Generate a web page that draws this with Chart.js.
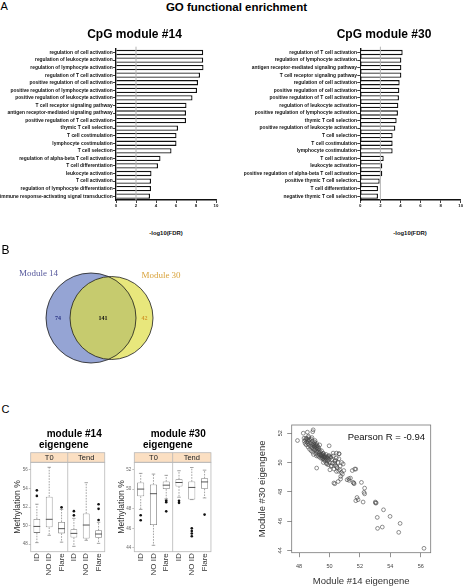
<!DOCTYPE html>
<html><head><meta charset="utf-8">
<script src="https://cdn.jsdelivr.net/npm/chart.js@4.4.1/dist/chart.umd.min.js"></script>
<style>
html,body{margin:0;padding:0;background:#fff;}
body{width:465px;height:588px;position:relative;overflow:hidden;font-family:"Liberation Sans",Arial,sans-serif;color:#000;}
canvas{position:absolute;display:block;}
.t{position:absolute;white-space:nowrap;line-height:1;}
</style></head>
<body>
<canvas id="bar14" width="222" height="175" style="left:0px;top:40px"></canvas>
<canvas id="bar30" width="237" height="175" style="left:228px;top:40px"></canvas>
<canvas id="venn" width="230" height="135" style="left:0px;top:240px"></canvas>
<canvas id="box14" width="110" height="138" style="left:0px;top:450px"></canvas>
<canvas id="box30" width="104" height="138" style="left:112px;top:450px"></canvas>
<canvas id="scat" width="225" height="178" style="left:240px;top:410px"></canvas>
<script>
// ---------------- DATA ----------------
const termsM14 = ["regulation of cell activation","regulation of leukocyte activation","regulation of lymphocyte activation","regulation of T cell activation","positive regulation of cell activation","positive regulation of lymphocyte activation","positive regulation of leukocyte activation","T cell receptor signaling pathway","antigen receptor-mediated signaling pathway","positive regulation of T cell activation","thymic T cell selection","T cell costimulation","lymphocyte costimulation","T cell selection","regulation of alpha-beta T cell activation","T cell differentiation","leukocyte activation","T cell activation","regulation of lymphocyte differentiation","immune response-activating signal transduction"];
const fdrM14 = [8.72,8.72,8.75,8.4,8.2,8.1,7.65,7.05,7.0,7.0,6.2,6.05,6.05,5.55,4.45,4.2,3.55,3.5,3.5,3.4];
const termsM30 = ["regulation of T cell activation","regulation of lymphocyte activation","antigen receptor-mediated signaling pathway","T cell receptor signaling pathway","regulation of cell activation","positive regulation of cell activation","positive regulation of T cell activation","regulation of leukocyte activation","positive regulation of lymphocyte activation","thymic T cell selection","positive regulation of leukocyte activation","T cell selection","T cell costimulation","lymphocyte costimulation","T cell activation","leukocyte activation","positive regulation of alpha-beta T cell activation","positive thymic T cell selection","T cell differentiation","negative thymic T cell selection"];
const fdrM30 = [4.22,4.09,4.09,4.09,3.92,3.89,3.85,3.79,3.75,3.62,3.49,3.22,3.22,3.22,2.33,2.19,2.19,1.93,1.76,1.76];
const fdrThreshold = 2;
const fdrTicks = [0,2,4,6,8,10];

const vennSets = ["Module 14","Module 30"];
const vennCounts = [74,141,42]; // only 14, both, only 30

const boxGroups = ["T0","Tend"];
const boxCats = ["ID","NO ID","Flare"];
const m14Low  = [48.15,48.94,48.2,47.75,48.4,48.07];
const m14Q1   = [49.2,49.8,49.15,48.7,48.6,48.68];
const m14Med  = [49.9,50.67,49.66,49.15,50.05,49.08];
const m14Q3   = [50.7,53.12,50.38,49.59,51.3,49.48];
const m14High = [52.3,56.29,51.75,50.77,54.63,50.35];
const m14Out  = [[0,53.8],[0,53.2],[2,51.96],[3,51.55],[3,51.1],[5,52.3],[5,51.8],[5,50.6]];
const m14Ticks = [48,50,52,54,56];
const m30Low  = [47.93,44.27,49.0,49.17,48.93,49.1];
const m30Q1   = [49.27,46.33,50.0,50.27,48.93,50.03];
const m30Med  = [50.0,49.53,50.4,50.67,50.17,50.73];
const m30Q3   = [50.67,50.47,50.77,51.0,50.77,51.1];
const m30High = [51.6,51.53,51.4,51.87,52.2,51.93];
const m30Out  = [[0,47.33],[0,46.83],[2,48.83],[2,48.67],[2,47.73],[3,48.8],[3,48.6],[4,46.0],[4,45.73],[4,45.47],[4,45.2],[5,47.4]];
const m30Ticks = [44,46,48,50,52];

const scX = [47.9,48.28,48.55,48.9,48.93,48.63,48.33,48.46,48.61,49.98,50.24,50.63,50.1,50.4,50.9,50.46,50.68,50.94,50.74,50.35,50.57,51.16,51.27,51.38,51.5,51.73,51.6,51.62,52.1,52.31,52.31,51.81,51.73,52.21,53.01,53.03,53.55,53.14,53.98,54.64,53.16,53.47,54.55,56.21,49.59,49.7,49.98,50.46,50.63,49.16,49.81,50.14,50.35,50.03,50.46,50.79,51.66,51.29,51.55,50.73,50.29,52.27,51.88,53.07,
48.35,48.4,48.42,48.48,48.5,48.52,48.58,48.6,48.62,48.66,48.7,48.7,48.74,48.76,48.8,48.8,48.83,48.86,48.88,48.9,48.92,48.95,48.97,49.0,49.0,49.02,49.04,49.06,49.08,49.1,49.1,49.12,49.14,49.16,49.18,49.2,49.2,49.22,49.24,49.26,49.28,49.3,49.3,49.32,49.34,49.36,49.38,49.4,49.42,49.44,49.46,49.48,49.5,49.52,49.55,49.56,49.58,49.6,49.62,49.64,49.66,49.68,49.7,49.72,49.75,49.78,49.8,49.82,49.85,49.88,49.9,49.92,49.95,49.97,50.0,50.05,50.1,50.15,50.2,50.25,50.3,50.35,50.4,50.45,50.5,50.55,50.6,50.62,50.7,50.8,50.85,49.15,48.95,49.6,49.05,48.85,48.62];
const scY = [51.5,52.0,52.07,52.1,52.23,51.7,51.66,51.66,51.54,51.14,50.64,50.6,50.36,50.14,49.9,49.73,49.5,49.45,49.05,48.55,48.7,48.82,48.9,48.93,49.45,49.55,48.6,48.55,48.64,48.25,47.86,47.61,47.39,47.3,47.3,47.23,46.77,46.25,46.32,45.84,45.5,45.59,45.23,44.14,50.64,50.37,50.46,50.64,50.59,49.62,49.96,49.78,49.96,49.5,49.39,49.32,49.55,48.78,48.64,48.87,48.6,47.96,47.46,47.24,
51.45,51.3,51.55,51.2,51.4,51.6,51.3,51.05,51.45,51.2,51.55,50.9,51.35,51.1,50.8,51.6,51.25,51.0,51.45,50.7,51.15,51.3,50.9,51.2,51.05,51.4,50.85,51.1,51.25,50.95,50.6,51.15,50.8,51.3,51.0,50.7,51.15,50.9,50.5,51.05,50.75,50.95,50.4,50.6,50.85,51.2,50.5,50.7,50.3,50.55,50.45,50.8,50.35,50.55,50.25,50.45,50.6,50.3,50.4,50.2,50.5,50.35,50.1,50.42,50.28,50.55,50.2,49.9,50.38,50.1,50.3,49.85,50.45,50.2,50.0,50.35,49.75,50.2,49.95,50.45,49.55,50.1,49.8,50.3,49.65,50.0,49.4,50.25,49.75,50.0,49.2,50.45,50.55,50.0,51.5,51.7,51.8];
const scXTicks = [48,50,52,54,56];
const scYTicks = [44,46,48,50,52];
const pearsonR = -0.94;

// ---------------- SETUP ----------------
Chart.defaults.font.family = "'Liberation Sans', Arial, sans-serif";
Chart.defaults.animation = false;
Chart.defaults.responsive = false;
Chart.defaults.events = [];
Chart.defaults.plugins.legend.display = false;
Chart.defaults.plugins.tooltip.enabled = false;

function label(text, x, baseline, size, o) {
  o = o || {};
  const d = document.createElement('div');
  d.className = 't'; d.textContent = text;
  d.style.fontSize = size + 'px';
  d.style.top = (baseline - 0.845 * size) + 'px';
  d.style.left = x + 'px';
  if (o.weight) d.style.fontWeight = o.weight;
  if (o.family) d.style.fontFamily = o.family;
  if (o.color) d.style.color = o.color;
  if (o.center) d.style.transform = 'translateX(-50%)';
  document.body.appendChild(d);
}

label('A', 0.5, 10.5, 11);
label('GO functional enrichment', 236.5, 11.5, 11.5, {weight:'bold', center:true});
label('CpG module #14', 134.5, 38.6, 12, {weight:'bold', center:true});
label('CpG module #30', 384, 38.2, 12, {weight:'bold', center:true});
label('-log10(FDR)', 166, 236, 5.9, {weight:'bold', center:true, color:'#111'});
label('-log10(FDR)', 410, 236, 5.9, {weight:'bold', center:true, color:'#111'});
label('B', 1.5, 254, 12);
label(vennSets[0], 38.5, 276.7, 9, {family:"'Liberation Serif', 'Times New Roman', serif", color:'#56589c', center:true});
label(vennSets[1], 161, 279, 9, {family:"'Liberation Serif', 'Times New Roman', serif", color:'#d9a33c', center:true});
label('C', 1.5, 413.5, 11);
label('module #14', 46.7, 437, 10, {weight:'bold'});
label('eigengene', 39, 448.6, 10, {weight:'bold'});
label('module #30', 150.7, 437, 10, {weight:'bold'});
label('eigengene', 143, 448.6, 10, {weight:'bold'});
label('Pearson R = ' + pearsonR.toFixed(2), 347.7, 440, 9.5, {color:'#111'});

// ---------------- PANEL A ----------------
const thresholdPlugin = {
  id: 'thr',
  afterDatasetsDraw(chart) {
    const {ctx, chartArea: a, scales: {x}} = chart;
    const px = x.getPixelForValue(fdrThreshold);
    ctx.save();
    ctx.strokeStyle = '#b4b4b4'; ctx.lineWidth = 1;
    ctx.beginPath(); ctx.moveTo(px, a.top - 2); ctx.lineTo(px, a.bottom); ctx.stroke();
    ctx.restore();
  }
};
function goChart(id, terms, vals, yWidth, padRight) {
  return new Chart(document.getElementById(id), {
    type: 'bar',
    data: { labels: terms, datasets: [{ data: vals, backgroundColor: '#ffffff', borderColor: '#111', borderWidth: 1.3, barPercentage: 0.7, categoryPercentage: 1 }] },
    options: {
      indexAxis: 'y',
      layout: { padding: { top: 8.7, right: padRight, bottom: 3, left: 0 } },
      scales: {
        x: { type: 'linear', min: 0, max: 10,
             afterBuildTicks: s => { s.ticks = fdrTicks.map(v => ({ value: v })); },
             afterFit: s => { s.height = 12; },
             grid: { drawOnChartArea: false, tickLength: 3, color: '#111', lineWidth: 0.8 },
             border: { color: '#111', width: 1.4 },
             ticks: { font: { size: 4.3, weight: 'bold' }, color: '#111', padding: 0.5 } },
        y: { afterFit: s => { s.width = yWidth; },
             grid: { drawOnChartArea: false, offset: false, tickLength: 3, color: '#111', lineWidth: 0.8 },
             border: { color: '#111', width: 1.4 },
             ticks: { autoSkip: false, font: { size: 4.9, weight: 'bold' }, color: '#111', padding: 0.3 } }
      }
    },
    plugins: [thresholdPlugin]
  });
}
goChart('bar14', termsM14, fdrM14, 116, 6);
goChart('bar30', termsM30, fdrM30, 132.3, 4.3);

// ---------------- PANEL B ----------------
// circle geometry in chart units (canvas pixels via linear scales)
const vennCircles = [{ cx: 91, cy: 78, r: 45 }, { cx: 111.5, cy: 78, r: 41.5 }];
const vennPlugin = {
  id: 'venn',
  afterDatasetsDraw(chart) {
    const {ctx, scales: {x, y}} = chart;
    const C = vennCircles.map(c => ({ x: x.getPixelForValue(c.cx), y: y.getPixelForValue(c.cy), r: x.getPixelForValue(c.cx + c.r) - x.getPixelForValue(c.cx) }));
    const circ = c => { ctx.beginPath(); ctx.arc(c.x, c.y, c.r, 0, 2 * Math.PI); };
    ctx.save();
    circ(C[0]); ctx.fillStyle = '#95a4d4'; ctx.fill();
    circ(C[1]); ctx.fillStyle = '#e8e77c'; ctx.fill();
    ctx.save(); circ(C[0]); ctx.clip(); circ(C[1]); ctx.fillStyle = '#c6cb6e'; ctx.fill(); ctx.restore();
    ctx.strokeStyle = '#1a1a1a'; ctx.lineWidth = 0.8;
    circ(C[0]); ctx.stroke(); circ(C[1]); ctx.stroke();
    const aL = C[0].x - C[0].r, aR = C[0].x + C[0].r, bL = C[1].x - C[1].r, bR = C[1].x + C[1].r;
    const pos = [(aL + bL) / 2, (bL + aR) / 2, (aR + bR) / 2];
    const cols = ['#2b3585', '#111111', '#d29a2c'];
    ctx.font = "bold 6px 'Liberation Serif', serif";
    ctx.textAlign = 'center'; ctx.textBaseline = 'middle';
    vennCounts.forEach((c, i) => { ctx.fillStyle = cols[i]; ctx.fillText(String(c), pos[i], C[0].y); });
    ctx.restore();
  }
};
new Chart(document.getElementById('venn'), {
  type: 'scatter',
  data: { datasets: vennCircles.map((c, i) => ({ label: vennSets[i], data: [{ x: c.cx, y: c.cy }], pointRadius: 0 })) },
  options: {
    layout: { padding: 0 },
    scales: { x: { type: 'linear', min: 0, max: 230, display: false }, y: { type: 'linear', min: 0, max: 135, reverse: true, display: false } }
  },
  plugins: [vennPlugin]
});

// ---------------- PANEL C: boxplots ----------------
const boxKeys = boxGroups.flatMap(g => boxCats.map(c => g + ' ' + c));
function makeBoxPlugin(st) {
  return {
    id: 'boxdraw',
    afterDatasetsDraw(chart) {
      const ctx = chart.ctx, y = chart.scales.y, meta = chart.getDatasetMeta(0);
      ctx.save();
      meta.data.forEach((bar, i) => {
        const cx = bar.x, w = bar.width;
        const pLow = y.getPixelForValue(st.low[i]), pHigh = y.getPixelForValue(st.high[i]);
        const pQ1 = y.getPixelForValue(st.q1[i]), pQ3 = y.getPixelForValue(st.q3[i]), pMed = y.getPixelForValue(st.med[i]);
        ctx.strokeStyle = '#7c7c7c'; ctx.lineWidth = 0.7;
        ctx.setLineDash([1.6, 1.2]);
        ctx.beginPath(); ctx.moveTo(cx, pQ3); ctx.lineTo(cx, pHigh); ctx.moveTo(cx, pQ1); ctx.lineTo(cx, pLow); ctx.stroke();
        ctx.setLineDash([]);
        ctx.beginPath(); ctx.moveTo(cx - w / 4, pHigh); ctx.lineTo(cx + w / 4, pHigh); ctx.moveTo(cx - w / 4, pLow); ctx.lineTo(cx + w / 4, pLow); ctx.stroke();
        ctx.strokeStyle = '#555'; ctx.lineWidth = 1;
        ctx.beginPath(); ctx.moveTo(cx - w / 2, pMed); ctx.lineTo(cx + w / 2, pMed); ctx.stroke();
      });
      ctx.restore();
    },
    afterDraw(chart) {
      const ctx = chart.ctx, a = chart.chartArea, x = chart.scales.x;
      const split = (x.getPixelForValue(2) + x.getPixelForValue(3)) / 2;
      const sh = 9.6, stTop = a.top - sh;
      ctx.save();
      ctx.fillStyle = '#fbdfc2'; ctx.fillRect(a.left, stTop, a.right - a.left, sh);
      ctx.strokeStyle = '#b8b8b8'; ctx.lineWidth = 0.8;
      ctx.strokeRect(a.left, stTop, a.right - a.left, sh);
      ctx.strokeRect(a.left, a.top, a.right - a.left, a.bottom - a.top);
      ctx.beginPath(); ctx.moveTo(split, stTop); ctx.lineTo(split, a.bottom); ctx.stroke();
      ctx.fillStyle = '#222'; ctx.font = "7.5px 'Liberation Sans', Arial, sans-serif";
      ctx.textAlign = 'center'; ctx.textBaseline = 'middle';
      ctx.fillText(boxGroups[0], (a.left + split) / 2, stTop + sh / 2 + 0.4);
      ctx.fillText(boxGroups[1], (split + a.right) / 2, stTop + sh / 2 + 0.4);
      ctx.restore();
    }
  };
}
function boxChart(id, st, yMin, yMax, yTicks, yWidth, titlePad, padRight) {
  return new Chart(document.getElementById(id), {
    type: 'bar',
    data: { labels: boxKeys, datasets: [
      { type: 'bar', data: st.q1.map((v, i) => [v, st.q3[i]]), backgroundColor: '#ffffff', borderColor: '#7c7c7c', borderWidth: 0.8, borderSkipped: false, barPercentage: 0.55, categoryPercentage: 1, order: 2 },
      { type: 'scatter', data: st.out.map(o => ({ x: boxKeys[o[0]], y: o[1] })), pointRadius: 1.3, pointBackgroundColor: '#111', pointBorderWidth: 0, order: 1 }
    ] },
    options: {
      layout: { padding: { top: 12.3, right: padRight, bottom: 0, left: 0 } },
      scales: {
        x: { afterFit: s => { s.height = 36.3; },
             grid: { display: false, drawTicks: false }, border: { display: false },
             ticks: { autoSkip: false, maxRotation: 90, minRotation: 90, font: { size: 8 }, color: '#333', padding: 1.5, callback: (v, i) => boxCats[i % 3] } },
        y: { min: yMin, max: yMax,
             afterBuildTicks: s => { s.ticks = yTicks.map(v => ({ value: v })); },
             afterFit: s => { s.width = yWidth; },
             grid: { drawOnChartArea: false, tickLength: 2, color: '#999', lineWidth: 0.6 }, border: { display: false },
             ticks: { font: { size: 4.5 }, color: '#666', padding: 1 },
             title: { display: true, text: 'Methylation %', font: { size: 8.5 }, color: '#333', padding: { top: titlePad, bottom: 0 } } }
      }
    },
    plugins: [makeBoxPlugin(st)]
  });
}
boxChart('box14', { low: m14Low, q1: m14Q1, med: m14Med, q3: m14Q3, high: m14High, out: m14Out }, 47.17, 56.83, m14Ticks, 30.7, 12.7, 4);
boxChart('box30', { low: m30Low, q1: m30Q1, med: m30Med, q3: m30Q3, high: m30High, out: m30Out }, 43.62, 52.73, m30Ticks, 22.3, 4.6, 2.7);

// ---------------- PANEL C: scatter ----------------
const scatterDeco = {
  id: 'scd',
  afterDraw(chart) {
    const {ctx, chartArea: a, scales: {y}} = chart;
    ctx.save();
    ctx.strokeStyle = '#777'; ctx.lineWidth = 0.8;
    ctx.strokeRect(a.left, a.top, a.right - a.left, a.bottom - a.top);
    ctx.fillStyle = '#444'; ctx.font = "5.5px 'Liberation Sans', Arial, sans-serif";
    ctx.textAlign = 'center'; ctx.textBaseline = 'middle';
    scYTicks.forEach(v => {
      const py = y.getPixelForValue(v);
      ctx.save(); ctx.translate(a.left - 11.7, py); ctx.rotate(-Math.PI / 2); ctx.fillText(String(v), 0, 0); ctx.restore();
    });
    ctx.restore();
  }
};
new Chart(document.getElementById('scat'), {
  type: 'scatter',
  data: { datasets: [{ data: scX.map((v, i) => ({ x: v, y: scY[i] })), pointRadius: 1.9, pointBorderWidth: 0.6, pointBorderColor: '#444', pointBackgroundColor: 'rgba(0,0,0,0)' }] },
  options: {
    layout: { padding: { top: 15, right: 34.3, bottom: 0, left: 0 } },
    scales: {
      x: { type: 'linear', min: 47.52, max: 56.65,
           afterBuildTicks: s => { s.ticks = scXTicks.map(v => ({ value: v })); },
           afterFit: s => { s.height = 35.3; },
           grid: { drawOnChartArea: false, tickLength: 4.5, color: '#777', lineWidth: 0.8 }, border: { display: false },
           ticks: { font: { size: 5.5 }, color: '#444', padding: 6 },
           title: { display: true, text: 'Module #14 eigengene', font: { size: 9.5 }, color: '#333', padding: { top: 0, bottom: 0.6 } } },
      y: { type: 'linear', min: 43.84, max: 52.56,
           afterBuildTicks: s => { s.ticks = scYTicks.map(v => ({ value: v })); },
           afterFit: s => { s.width = 51.7; },
           grid: { drawOnChartArea: false, tickLength: 4.5, color: '#777', lineWidth: 0.8 }, border: { display: false },
           ticks: { display: false },
           title: { display: true, text: 'Module #30 eigengene', font: { size: 9.5 }, color: '#333', padding: { top: 16.6, bottom: 0 } } }
    }
  },
  plugins: [scatterDeco]
});
</script>
</body></html>
